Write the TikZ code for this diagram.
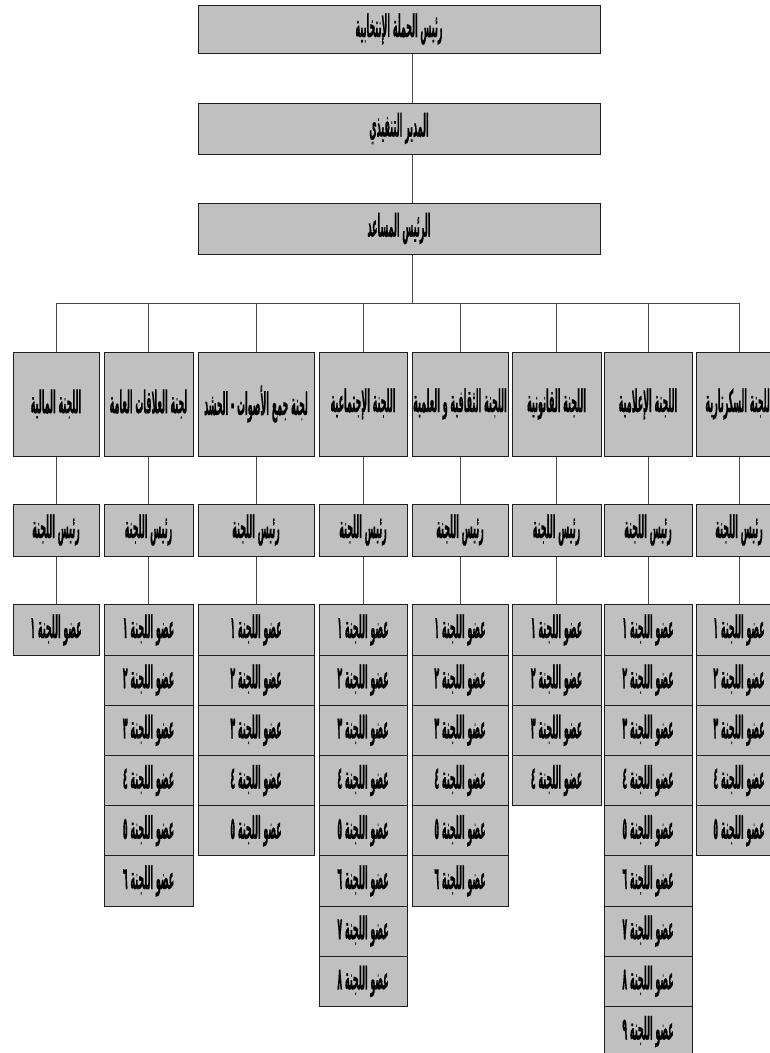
\documentclass[tikz,border=0pt]{standalone}
\usepackage{fontspec}
\usepackage{graphicx}
\newfontfamily\arabicfont[Script=Arabic,FakeStretch=0.55,FakeBold=0.6]{DejaVu Sans Bold}
\TeXXeTstate=1
\definecolor{boxgray}{RGB}{192,192,192}
\definecolor{edgegray}{RGB}{30,30,30}
\definecolor{linkgray}{RGB}{70,70,70}
\newcommand{\ardig}[1]{\ifcase#1 ٠\or ١\or ٢\or ٣\or ٤\or ٥\or ٦\or ٧\or ٨\or ٩\fi}
\newcommand{\artext}[1]{\scalebox{0.76}[1.65]{\beginR #1\endR}}
\begin{document}
\begin{tikzpicture}[x=1pt,y=-1pt,
  box/.style={draw=edgegray, line width=1pt, fill=boxgray, inner sep=0pt,
    font=\fontsize{19}{21}\selectfont\arabicfont},
  link/.style={draw=linkgray, line width=0.8pt}]
\useasboundingbox (0,0) rectangle (770,1053);
% top chain
\node[box, minimum width=402, minimum height=48] (ceo) at (399,29) {\artext{رئيس الحملة الإنتخابية}};
\node[box, minimum width=402, minimum height=51] (dir) at (399,128.5) {\artext{المدير التنفيذي}};
\node[box, minimum width=402, minimum height=51] (vp) at (399,228.5) {\artext{الرئيس المساعد}};
\coordinate (trunk) at (412,0);
\coordinate (bus) at (412,303);
\draw[link] (ceo.south -| trunk) -- (dir.north -| trunk);
\draw[link] (dir.south -| trunk) -- (vp.north -| trunk);
\draw[link] (vp.south -| trunk) -- (bus);
% committees
\foreach \i/\cx/\w/\n/\title in {
  1/56/86/1/اللجنة المالية,
  2/148.5/89/6/لجنة العلاقات العامة,
  3/256/116/5/لجنة جمع الأصوات - الحشد,
  4/363/88/8/اللجنة الإجتماعية,
  5/460/96/6/اللجنة الثقافية و العلمية,
  6/556.5/89/4/اللجنة القانونية,
  7/648/88/9/اللجنة الإعلامية,
  8/739/86/5/اللجنة السكرتارية}{
  \node[box, minimum width=\w, minimum height=104] (c\i) at (\cx,404) {\artext{\title}};
  \node[box, minimum width=\w, minimum height=52] (h\i) at (\cx,530) {\artext{رئيس اللجنة}};
  \foreach \k in {1,...,\n}{
    \node[box, minimum width=\w, minimum height=50.2] (m\i-\k) at (\cx,{630+50.2*(\k-1)}) {\artext{عضو اللجنة \ardig{\k}}};
  }
  \draw[link] (c\i.north |- bus) -- (c\i.north);
  \draw[link] (c\i.south) -- (h\i.north);
  \draw[link] (h\i.south) -- (m\i-1.north);
}
\draw[link] (c1.north |- bus) -- (c8.north |- bus);
\end{tikzpicture}
\end{document}
